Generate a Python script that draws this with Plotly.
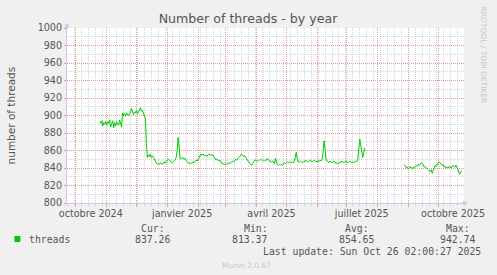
import pandas as pd
import plotly.graph_objects as go

# ---------------- data ----------------
title = "Number of threads - by year"
y_title = "number of threads"
series_name = "threads"
series_start = "2024-10-25"          # first daily sample
range_start = "2024-09-22"
range_end = "2025-10-27"

threads = [
    893, 891, 894, 888, 892, 890, 893, 889, 893, 891, 895, 887, 890, 894, 886, 892, 888, 893, 890, 889, 895, 891, 887,
    903, 900, 902, 899, 903, 901, 900, 902, 904, 908, 903, 901, 904, 903, 906, 902, 904, 908, 909, 905, 906, 903, 900, 896,
    868, 852, 855, 853, 856, 852, 854, 853, 851, 848,
    845, 844, 845, 844, 846, 845, 844, 846, 847, 845,
    848, 849, 850, 849, 848, 847, 846, 847, 848, 849,
    852, 860, 875, 858, 851, 850, 851, 852, 850, 851,
    849, 847, 846, 845, 846, 845, 846, 847, 846, 848,
    849, 848, 850, 852, 855, 856, 855, 856, 854, 855,
    854, 853, 855, 856, 855, 854, 855, 855, 853, 850,
    849, 850, 849, 848, 849, 847, 845, 844, 845, 844,
    845, 844, 845, 846, 845, 846, 847, 848, 847, 849,
    850, 849, 851, 852, 853, 855, 856, 855, 853, 854,
    852, 850, 848, 846, 845, 844, 843, 845, 848, 849,
    849, 848, 849, 848, 849, 850, 849, 849, 848, 849,
    848, 849, 851, 849, 848, 847, 847, 848, 847, 845,
    851, 847, 844, 843, 844, 843, 844, 843, 844, 846,
    845, 846, 847, 846, 847, 846, 847, 847, 846, 848,
    852, 858, 850, 847, 847, 848, 847, 846, 847, 848,
    847, 849, 848, 847, 848, 849, 848, 847, 848, 849,
    848, 847, 848, 847, 848, 849, 848, 850, 858, 871,
    862, 850, 848, 847, 846, 848, 847, 846, 847, 848,
    846, 845, 846, 845, 846, 847, 846, 848, 847, 846,
    847, 848, 847, 846, 847, 848, 847, 846, 847, 846,
    847, 848, 847, 850, 862, 873, 866, 858, 852, 858,
    863,
] + [None] * 39 + [
    844, 842, 840, 841, 839, 840, 842, 840, 839, 841,
    840, 842, 843, 842, 844, 843, 845, 846, 845, 843,
    841, 842, 840, 839, 838, 837, 836, 838, 834, 837,
    840, 843, 842, 845, 846, 847, 846, 845, 843, 844,
    841, 842, 840, 841, 840, 842, 841, 840, 842, 843,
    842, 841, 843, 841, 838, 834, 833, 836, 837,
]

label_dates = ["2024-10-16", "2025-01-16", "2025-04-16", "2025-07-16", "2025-10-16"]
label_texts = ["octobre 2024", "janvier 2025", "avril 2025", "juillet 2025", "octobre 2025"]

stat_names = ["Cur:", "Min:", "Avg:", "Max:"]
stat_values = ["837.26", "813.37", "854.65", "942.74"]
last_update = "Last update: Sun Oct 26 02:00:27 2025"
footer = "Munin 2.0.67"
side_text = "RRDTOOL / TOBI OETIKER"

# ---------------- figure ----------------
W, H = 497, 275
L, R, T, B = 67, 30, 28, 72
PW, PH = W - L - R, H - T - B

def px(x):
    return (x - L) / PW

def py(y):
    return (H - B - y) / PH

dates = pd.date_range(series_start, periods=len(threads), freq="D")

GREEN = "#00cc00"
RED_GRID = "#e49c9c"
GRAY_GRID = "#d4d4d4"
AXIS = "#c8c8f0"
TXT = "#555555"
SANS = "DejaVu Sans"
MONO = "DejaVu Sans Mono"
DOT = "1px,1px"

fig = go.Figure()
fig.add_trace(go.Scatter(x=dates, y=threads, mode="lines",
                         line=dict(color=GREEN, width=1), connectgaps=False,
                         showlegend=False, hoverinfo="skip"))
# helper trace for label axis
fig.add_trace(go.Scatter(x=[range_start, range_end], y=[None, None], xaxis="x2",
                         showlegend=False, hoverinfo="skip"))

fig.update_layout(
    width=W, height=H,
    margin=dict(l=L, r=R, t=T, b=B, pad=0),
    paper_bgcolor="#f0f0f0", plot_bgcolor="#ffffff",
    font=dict(family=SANS, color=TXT, size=10),
    title=dict(text=title, x=248 / W, xanchor="center", y=1 - 19 / H, yanchor="middle",
               xref="container", yref="container",
               font=dict(family=SANS, size=12.6, color=TXT)),
    xaxis=dict(type="date", range=[range_start, range_end],
               showline=True, linecolor=AXIS, linewidth=1, mirror=False,
               tick0="2024-10-01", dtick="M1", showticklabels=False,
               ticks="outside", ticklen=3, tickcolor=RED_GRID,
               showgrid=True, gridcolor=RED_GRID, griddash=DOT, gridwidth=1,
               minor=dict(tick0="2024-09-23", dtick=7 * 86400000, showgrid=True,
                          gridcolor=GRAY_GRID, griddash=DOT, gridwidth=1,
                          ticks="outside", ticklen=2, tickcolor=GRAY_GRID),
               zeroline=False),
    xaxis2=dict(type="date", range=[range_start, range_end], overlaying="x", side="bottom",
                anchor="y", tickvals=label_dates, ticktext=label_texts, ticks="",
                showgrid=False, showline=False, zeroline=False,
                tickfont=dict(family=SANS, size=9.6, color=TXT), ticklabelstandoff=3),
    yaxis=dict(range=[800, 1000], dtick=20, tick0=800,
               showline=True, linecolor=AXIS, linewidth=1,
               showgrid=True, gridcolor=RED_GRID, griddash=DOT, gridwidth=1,
               ticks="outside", ticklen=2, tickcolor=RED_GRID,
               minor=dict(dtick=10, showgrid=True, gridcolor=GRAY_GRID, griddash=DOT,
                          gridwidth=1),
               tickfont=dict(family=SANS, size=9.6, color=TXT), zeroline=False),
)

ann = []
# y title
ann.append(dict(text=y_title, x=px(11), y=py(115), xref="paper", yref="paper",
                textangle=-90, showarrow=False, xanchor="center", yanchor="middle",
                font=dict(family=SANS, size=10.5, color=TXT)))
# side credit
ann.append(dict(text=side_text, x=px(487), y=py(5), xref="paper", yref="paper",
                textangle=90, showarrow=False, xanchor="center", yanchor="top",
                font=dict(family=SANS, size=7.5, color="#c8c8c8")))
# legend
ann.append(dict(text=series_name, x=px(27), y=py(239), xref="paper", yref="paper",
                showarrow=False, xanchor="left", yanchor="middle",
                font=dict(family=MONO, size=9.8, color=TXT)))
name_left = [140, 243, 345, 447]
val_left = [134, 231, 339, 441]
for n, v, nl, vl in zip(stat_names, stat_values, name_left, val_left):
    ann.append(dict(text=n, x=px(nl), y=py(228), xref="paper", yref="paper",
                    showarrow=False, xanchor="left", yanchor="middle",
                    font=dict(family=MONO, size=9.8, color=TXT)))
    ann.append(dict(text=v, x=px(vl), y=py(239), xref="paper", yref="paper",
                    showarrow=False, xanchor="left", yanchor="middle",
                    font=dict(family=MONO, size=9.8, color=TXT)))
ann.append(dict(text=last_update, x=px(262), y=py(251), xref="paper", yref="paper",
                showarrow=False, xanchor="left", yanchor="middle",
                font=dict(family=MONO, size=9.8, color=TXT)))
ann.append(dict(text=footer, x=px(248), y=py(265), xref="paper", yref="paper",
                showarrow=False, xanchor="center", yanchor="middle",
                font=dict(family=SANS, size=7.5, color="#c8c8c8")))
# axis arrows
ann.append(dict(text="", x=0, y=1.03, xref="paper", yref="paper", showarrow=True,
                ax=0, ay=8, arrowhead=2, arrowsize=1, arrowwidth=1, arrowcolor=AXIS))
ann.append(dict(text="", x=1.01, y=0, xref="paper", yref="paper", showarrow=True,
                ax=-8, ay=0, arrowhead=2, arrowsize=1, arrowwidth=1, arrowcolor=AXIS))
fig.update_layout(annotations=ann)

# legend swatch
fig.add_shape(type="rect", xref="paper", yref="paper",
              x0=px(14), x1=px(20), y0=py(242), y1=py(236),
              fillcolor=GREEN, line=dict(width=0))

fig.write_html("out.html")
